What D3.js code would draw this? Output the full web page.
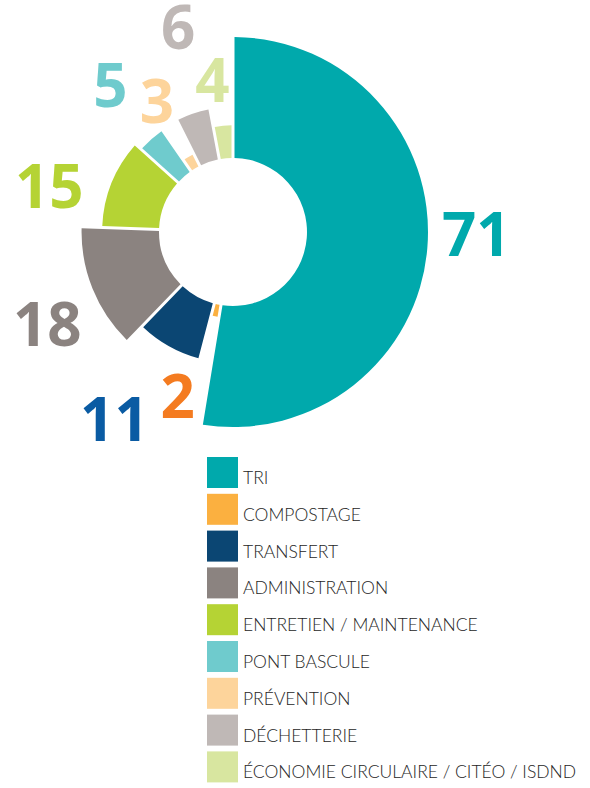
<!DOCTYPE html>
<html>
<head>
<meta charset="utf-8">
<script src="https://cdn.jsdelivr.net/npm/d3@7"></script>
<style>
  html, body { margin: 0; padding: 0; background: #ffffff; }
  svg { display: block; }
</style>
</head>
<body>
<svg id="chart" width="590" height="788"></svg>
<script>
// Staff headcount by department
const categories = [
  "TRI", "COMPOSTAGE", "TRANSFERT", "ADMINISTRATION", "ENTRETIEN / MAINTENANCE",
  "PONT BASCULE", "PRÉVENTION", "DÉCHETTERIE", "ÉCONOMIE CIRCULAIRE / CITÉO / ISDND"
];
const headcount = [71, 2, 11, 18, 15, 5, 3, 6, 4];
// Secondary measure shown by how far each wedge reaches (0–100)
const reach = [100, 10, 47, 64, 47, 41, 11, 42, 27];

const sliceColors = ["#00a9ac", "#fbb040", "#0b4673", "#8b8380", "#b5d334",
                     "#6fcbcd", "#fdd49b", "#bfb8b6", "#d8e6a0"];
const labelColors = ["#00a9ac", "#f47b20", "#0a5ba3", "#8b8380", "#b5d334",
                     "#6fcbcd", "#fdd49b", "#bfb8b6", "#d8e6a0"];

// Layout
const cx = 233, cy = 232;
const innerR = 74, maxR = 195;
const labelGap = 50;
// hand-tuned shifts so the value labels sit clear of each other
const labelShift = [[-1, -17], [-27, 31], [-30, 30], [1, 17], [-16, 22],
                    [-8, -16], [-6, -12], [1, -39], [-6, 4]];

const data = categories.map((c, i) => ({ name: c, value: headcount[i], reach: reach[i], i }));

const svg = d3.select("#chart");
const g = svg.append("g").attr("transform", `translate(${cx},${cy})`);

const rScale = d3.scaleLinear().domain([0, 100]).range([innerR, maxR]);

const pie = d3.pie().sort(null).value(d => d.value).startAngle(0).endAngle(2 * Math.PI);
const arcs = pie(data);

const arc = d3.arc()
  .innerRadius(innerR)
  .outerRadius(d => rScale(d.data.reach))
  .padAngle(0.03)
  .padRadius(100);

g.selectAll("path.slice")
  .data(arcs)
  .join("path")
  .attr("class", "slice")
  .attr("d", arc)
  .attr("fill", d => sliceColors[d.data.i]);

// Value labels
g.selectAll("text.value")
  .data(arcs)
  .join("text")
  .attr("class", "value")
  .attr("text-anchor", "middle")
  .attr("font-family", "'Open Sans', 'Noto Sans', sans-serif")
  .attr("font-weight", 700)
  .attr("font-size", 60)
  .attr("fill", d => labelColors[d.data.i])
  .attr("x", d => {
    const a = (d.startAngle + d.endAngle) / 2;
    const R = rScale(d.data.reach) + labelGap;
    return R * Math.sin(a) + labelShift[d.data.i][0];
  })
  .attr("y", d => {
    const a = (d.startAngle + d.endAngle) / 2;
    const R = rScale(d.data.reach) + labelGap;
    return -R * Math.cos(a) + labelShift[d.data.i][1] + 21.5;
  })
  .text(d => d.data.value);

// Legend
const legendX = 207, legendY = 457, swatch = 31, step = 36.8;
const legend = svg.append("g").attr("transform", `translate(${legendX},${legendY})`);
const items = legend.selectAll("g.item")
  .data(data)
  .join("g")
  .attr("class", "item")
  .attr("transform", (d, i) => `translate(0,${i * step})`);

items.append("rect")
  .attr("width", swatch)
  .attr("height", swatch)
  .attr("fill", d => sliceColors[d.i]);

items.append("text")
  .attr("x", swatch + 5)
  .attr("y", swatch - 4)
  .attr("font-family", "Lato, 'Open Sans', sans-serif")
  .attr("font-weight", 300)
  .attr("font-size", 17.5)
  .attr("fill", "#262626")
  .text(d => d.name);
</script>
</body>
</html>
